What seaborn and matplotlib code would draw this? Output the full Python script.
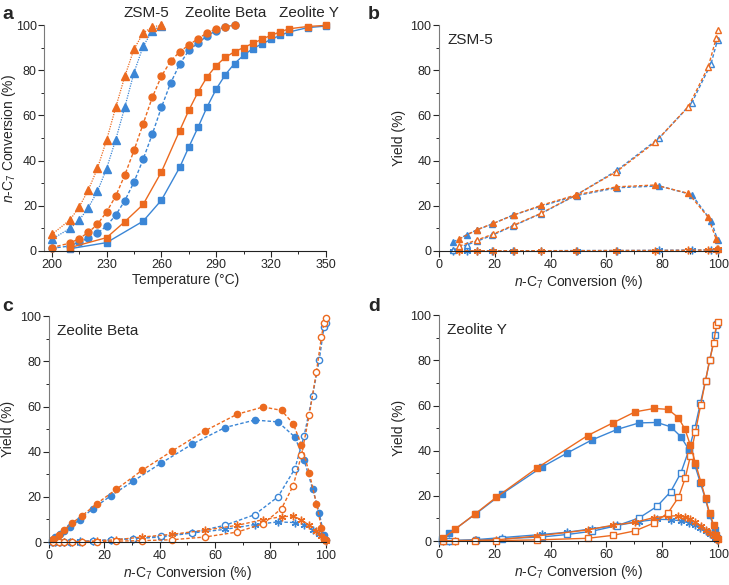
import matplotlib
matplotlib.use("Agg")
import matplotlib.pyplot as plt
import seaborn as sns
from matplotlib.ticker import MultipleLocator

ORANGE = "#EC6A1F"
BLUE = "#3B86D6"

# ---- panel a: conversion vs temperature ----
zsm_T_or = [200, 210, 215, 220, 225, 230, 235, 240, 245, 250, 255, 260]
zsm_conv_or = [7.3, 13.8, 19.5, 27.0, 36.6, 49.1, 63.6, 77.4, 89.4, 96.5, 99.3, 99.9]
zsm_T_bl = [200, 210, 215, 220, 225, 230, 235, 240, 245, 250, 255, 260]
zsm_conv_bl = [5.2, 10.0, 13.6, 19.2, 26.4, 36.5, 49.3, 63.8, 79.0, 90.6, 97.5, 99.8]

beta_T = [200, 210, 215, 220, 225, 230, 235, 240, 245, 250, 255, 260, 265, 270, 275, 280, 285, 290, 295, 300]
beta_conv_or = [1.5, 3.5, 5.5, 8.2, 11.8, 17.3, 24.3, 33.7, 44.5, 56.3, 68.0, 77.4, 84.0, 88.2, 91.2, 94.0, 96.6, 98.4, 99.3, 100.0]
beta_conv_bl = [1.2, 2.2, 4.0, 5.6, 7.8, 11.1, 15.9, 22.3, 30.5, 40.6, 51.7, 63.6, 74.3, 82.7, 88.8, 92.1, 95.2, 97.6, 99.3, 100.0]

y_T_or = [210, 230, 240, 250, 260, 270, 275, 280, 285, 290, 295, 300, 305, 310, 315, 320, 325, 330, 340, 350]
y_conv_or = [1.5, 5.9, 13.0, 20.6, 35.0, 53.3, 62.3, 70.3, 77.1, 82.1, 85.8, 88.2, 90.1, 91.9, 93.8, 95.5, 97.0, 98.4, 99.4, 99.9]
y_T_bl = [210, 230, 250, 260, 270, 275, 280, 285, 290, 295, 300, 305, 310, 315, 320, 325, 330, 340, 350]
y_conv_bl = [1.0, 3.7, 13.2, 22.5, 37.0, 46.0, 54.7, 63.8, 71.7, 78.1, 83.0, 86.7, 89.6, 91.7, 93.7, 95.5, 97.0, 98.9, 99.6]

temp_ticks = [200, 230, 260, 290, 320, 350]

# ---- panel b: ZSM-5 yields ----
zsm_iso_or = [5.3, 9.5, 12.2, 16.0, 20.2, 24.8, 28.4, 29.2, 25.5, 14.9, 5.3, 1.0]
zsm_crk_or = [2.2, 4.9, 7.5, 11.5, 16.7, 24.8, 35.1, 48.1, 63.9, 81.6, 94.1, 98.0]
zsm_oth_or = [0.1, 0.1, 0.1, 0.1, 0.1, 0.1, 0.2, 0.2, 0.3, 0.4, 0.6, 0.8]
zsm_iso_bl = [4.0, 7.2, 9.3, 12.0, 15.8, 19.8, 24.5, 28.0, 28.8, 24.9, 13.4, 5.0]
zsm_crk_bl = [0.5, 2.7, 4.3, 7.0, 11.0, 16.5, 24.8, 35.7, 50.1, 65.6, 83.0, 93.4]
zsm_oth_bl = [0.1, 0.1, 0.1, 0.1, 0.1, 0.1, 0.2, 0.2, 0.3, 0.4, 0.5, 0.6]

# ---- panel c: Zeolite Beta yields ----
beta_iso_or = [1.5, 3.0, 5.2, 8.3, 11.4, 17.0, 23.3, 31.8, 40.3, 49.2, 56.6, 59.8, 58.3, 52.4, 43.0, 30.6, 17.0, 6.4, 1.5, 0.7]
beta_crk_or = [0, 0, 0, 0, 0.1, 0.2, 0.4, 0.6, 1.0, 2.2, 4.4, 8.1, 14.8, 24.9, 38.5, 56.2, 75.5, 90.8, 97.0, 99.0]
beta_oth_or = [0, 0, 0, 0, 0.2, 0.5, 1.0, 2.2, 3.4, 5.2, 7.4, 9.9, 11.2, 11.5, 9.8, 7.4, 4.9, 2.5, 1.0, 0.3]
beta_iso_bl = [1.0, 2.0, 3.6, 5.0, 6.8, 9.9, 14.8, 20.4, 27.0, 35.0, 43.3, 50.7, 54.0, 53.2, 46.5, 36.5, 23.6, 12.9, 3.0, 1.0]
beta_crk_bl = [0, 0, 0, 0, 0.1, 0.2, 0.4, 0.9, 1.5, 2.5, 4.2, 7.4, 12.1, 20.0, 32.4, 46.8, 64.8, 80.6, 95.0, 97.0]
beta_oth_bl = [0, 0, 0, 0.1, 0.2, 0.3, 0.5, 1.0, 1.5, 2.2, 4.0, 5.6, 7.7, 8.9, 8.6, 7.7, 5.5, 3.4, 1.5, 0.5]

# ---- panel d: Zeolite Y yields ----
y_iso_or = [1.2, 5.3, 12.0, 19.4, 32.2, 46.7, 52.3, 57.2, 58.7, 58.3, 54.6, 49.4, 42.3, 34.5, 26.3, 18.9, 12.3, 7.1, 2.7, 1.0]
y_crk_or = [0, 0, 0.1, 0.2, 0.5, 1.2, 2.5, 4.5, 8.0, 12.5, 19.3, 27.7, 37.7, 48.4, 60.3, 71.0, 80.2, 87.6, 95.7, 96.9]
y_oth_or = [0.1, 0.2, 0.3, 0.5, 2.2, 4.9, 7.0, 8.3, 10.4, 11.0, 11.2, 10.5, 9.6, 8.2, 6.6, 5.0, 3.4, 2.0, 0.8, 0.3]
y_iso_bl = [0.8, 3.4, 12.0, 20.8, 32.8, 39.0, 44.7, 49.4, 52.3, 52.5, 50.6, 46.2, 40.3, 33.5, 25.6, 18.5, 11.5, 4.9, 1.2]
y_crk_bl = [0.1, 0.1, 0.3, 1.0, 1.8, 2.9, 4.3, 6.8, 10.2, 15.3, 21.8, 30.2, 40.5, 50.2, 61.2, 71.0, 80.0, 91.3, 96.0]
y_oth_bl = [0.3, 0.2, 0.6, 1.5, 2.9, 3.9, 5.4, 6.9, 8.6, 9.6, 9.5, 8.9, 8.0, 7.3, 5.8, 4.4, 2.9, 1.2, 0.4]

DOT = (0, (1, 1))
DASH = (0, (2.5, 1.5))
STAR = (6, 2, 0)

sns.set_style("ticks")
plt.rcParams["font.family"] = ["Liberation Sans", "DejaVu Sans"]
plt.rcParams["mathtext.fontset"] = "custom"
plt.rcParams["mathtext.rm"] = "Liberation Sans"
plt.rcParams["mathtext.it"] = "Liberation Sans:italic"


def draw(ax, x, y, color, marker, ls, filled=True, ms=5, lw=1.0):
    sns.lineplot(x=x, y=y, ax=ax, estimator=None, sort=False, color=color,
                 marker=marker, markersize=ms, linewidth=lw, linestyle=ls,
                 markerfacecolor=color if filled else "white",
                 markeredgecolor=color, markeredgewidth=1.0, clip_on=False)


def style(ax, xlabel, ylabel, xlim, ylab_x):
    ax.set_xlim(*xlim)
    ax.set_ylim(0, 100)
    ax.yaxis.set_major_locator(MultipleLocator(20))
    ax.yaxis.set_minor_locator(MultipleLocator(10))
    ax.tick_params(which="major", direction="out", length=4, width=0.8, labelsize=9, pad=1.5)
    ax.tick_params(which="minor", direction="out", length=2.5, width=0.7)
    for s in ["top", "right"]:
        ax.spines[s].set_visible(False)
    ax.spines["left"].set_color("#7a7a7a")
    ax.spines["bottom"].set_color("#222222")
    ax.set_xlabel(xlabel, fontsize=10, labelpad=2)
    ax.set_ylabel(ylabel, fontsize=10)
    ax.yaxis.set_label_coords(ylab_x, 0.5)


conv_label = r"$n$-C$_7$ Conversion (%)"

fig = plt.figure(figsize=(7.29, 5.85), dpi=100)
ax_a = fig.add_axes([0.061, 0.571, 0.386, 0.386])
ax_b = fig.add_axes([0.602, 0.571, 0.383, 0.386])
ax_c = fig.add_axes([0.067, 0.0735, 0.380, 0.386])
ax_d = fig.add_axes([0.602, 0.0752, 0.383, 0.386])

# a
draw(ax_a, zsm_T_bl, zsm_conv_bl, BLUE, "^", DOT, ms=5.5, lw=0.9)
draw(ax_a, zsm_T_or, zsm_conv_or, ORANGE, "^", DOT, ms=5.5, lw=0.9)
draw(ax_a, beta_T, beta_conv_bl, BLUE, "o", DASH, ms=5, lw=1.0)
draw(ax_a, beta_T, beta_conv_or, ORANGE, "o", DASH, ms=5, lw=1.0)
draw(ax_a, y_T_bl, y_conv_bl, BLUE, "s", "-", ms=4.5, lw=1.0)
draw(ax_a, y_T_or, y_conv_or, ORANGE, "s", "-", ms=4.5, lw=1.0)
style(ax_a, "Temperature (°C)", conv_label, (196, 350), -0.095)
ax_a.set_xticks(temp_ticks)
ax_a.set_xticks([t + 15 for t in temp_ticks[:-1]], minor=True)
for txt, xpos in [("ZSM-5", 252), ("Zeolite Beta", 295), ("Zeolite Y", 341)]:
    ax_a.text(xpos, 102.5, txt, ha="center", va="bottom", fontsize=11, clip_on=False)

# b
for x, iso, crk, oth, c in [(zsm_conv_bl, zsm_iso_bl, zsm_crk_bl, zsm_oth_bl, BLUE),
                            (zsm_conv_or, zsm_iso_or, zsm_crk_or, zsm_oth_or, ORANGE)]:
    draw(ax_b, x, oth, c, STAR, DASH, ms=5.5, lw=1.0)
    draw(ax_b, x, crk, c, "^", DASH, filled=False, ms=5, lw=1.0)
    draw(ax_b, x, iso, c, "^", DASH, ms=5, lw=1.0)
style(ax_b, conv_label, "Yield (%)", (0, 100), -0.118)
ax_b.text(0.03, 0.965, "ZSM-5", transform=ax_b.transAxes, ha="left", va="top", fontsize=11)

# c
for x, iso, crk, oth, c in [(beta_conv_bl, beta_iso_bl, beta_crk_bl, beta_oth_bl, BLUE),
                            (beta_conv_or, beta_iso_or, beta_crk_or, beta_oth_or, ORANGE)]:
    draw(ax_c, x, oth, c, STAR, DASH, ms=5.5, lw=1.0)
    draw(ax_c, x, crk, c, "o", DASH, filled=False, ms=4.5, lw=1.0)
    draw(ax_c, x, iso, c, "o", DASH, ms=4.5, lw=1.0)
style(ax_c, conv_label, "Yield (%)", (0, 100), -0.123)
ax_c.text(0.03, 0.965, "Zeolite Beta", transform=ax_c.transAxes, ha="left", va="top", fontsize=11)

# d
for x, iso, crk, oth, c in [(y_conv_bl, y_iso_bl, y_crk_bl, y_oth_bl, BLUE),
                            (y_conv_or, y_iso_or, y_crk_or, y_oth_or, ORANGE)]:
    draw(ax_d, x, oth, c, STAR, "-", ms=5.5, lw=1.0)
    draw(ax_d, x, crk, c, "s", "-", filled=False, ms=4, lw=1.0)
    draw(ax_d, x, iso, c, "s", "-", ms=4, lw=1.0)
style(ax_d, conv_label, "Yield (%)", (0, 100), -0.118)
ax_d.text(0.03, 0.965, "Zeolite Y", transform=ax_d.transAxes, ha="left", va="top", fontsize=11)

for ax in (ax_b, ax_c, ax_d):
    ax.xaxis.set_major_locator(MultipleLocator(20))
    ax.xaxis.set_minor_locator(MultipleLocator(10))

for lbl, (x, y) in zip("abcd", [(0.003, 0.99), (0.505, 0.99), (0.003, 0.49), (0.505, 0.49)]):
    fig.text(x, y, lbl, fontsize=14, fontweight="bold", ha="left", va="top")

fig.savefig("out.png", dpi=100)
